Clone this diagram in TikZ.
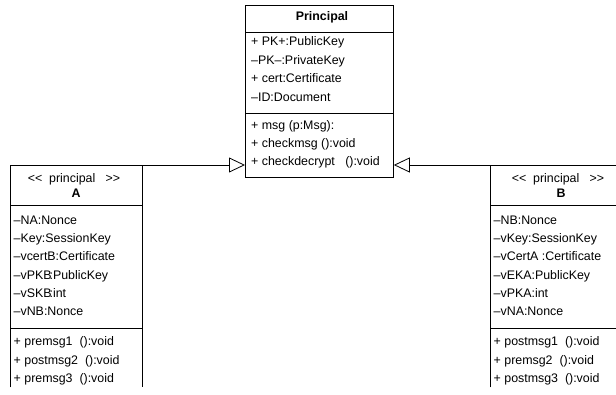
\documentclass[tikz,border=0pt]{standalone}
\usepackage{fontspec}
\setmainfont{Liberation Sans}
\usetikzlibrary{arrows.meta}
\begin{document}
\begin{tikzpicture}[x=1pt,y=-1pt,
  box/.style={draw=black, line width=0.8pt, inner sep=0pt, anchor=north west},
  openbox/.style={inner sep=0pt, anchor=north west},
  sep/.style={draw=black, line width=0.8pt},
  txt/.style={anchor=west, inner sep=0pt, font=\fontsize{12.4}{14}\selectfont, text height=8.5pt, text depth=2.5pt},
  ttl/.style={anchor=center, inner sep=0pt, font=\fontsize{12.4}{14}\selectfont\bfseries, text height=8.5pt, text depth=2.5pt},
  ster/.style={anchor=center, inner sep=0pt, font=\fontsize{12.4}{14}\selectfont, text height=8.5pt, text depth=2.5pt},
  gen/.style={-{Triangle[open,length=16pt,width=15pt,fill=white]}, line width=0.8pt}]
\useasboundingbox (0,0) rectangle (616,395);
\fill[white] (0,0) rectangle (616,395);
\clip (0,0) rectangle (616,395);
% Principal
\node[box, minimum width=148pt, minimum height=172pt] (P) at (245,5) {};
\node[ttl] (Pt) at (322,18) {Principal};
\draw[sep] (245,32) -- (393,32);
\node[txt] (P1) at (251,43) {+ PK+:PublicKey};
\node[txt] (P2) at (251,62) {–PK–:PrivateKey};
\node[txt] (P3) at (251,80) {+ cert:Certificate};
\node[txt] (P4) at (251,99) {–ID:Document};
\draw[sep] (245,113) -- (393,113);
\node[txt] (P5) at (251,127) {+ msg (p:Msg):};
\node[txt] (P6) at (251,145) {+ checkmsg ():void};
\node[txt] (P7) at (251,163) {+ checkdecrypt \ \ ():void};
% A (open at the bottom, cut off)
\node[openbox, minimum width=132pt, minimum height=222pt] (A) at (10,165) {};
\draw[sep] (A.south west) -- (A.north west) -- (A.north east) -- (A.south east);
\node[ster] (As) at (74,180) {{<}{<}\ \ principal \ \ {>}{>}};
\node[ttl] (At) at (76,195) {A};
\draw[sep] (10,205) -- (142,205);
\node[txt] (A1) at (13.5,222) {–NA:Nonce};
\node[txt] (A2) at (13.5,240) {–Key:SessionKey};
\node[txt] (A3) at (13.5,258) {–vcertB:Certificate};
\node[txt] (A4) at (13.5,277) {–vPKB\kern-2pt:PublicKey};
\node[txt] (A5) at (13.5,295) {–vSKB\kern-2pt:int};
\node[txt] (A6) at (13.5,313) {–vNB:Nonce};
\draw[sep] (10,328) -- (142,328);
\node[txt] (A7) at (13.5,343) {+ premsg1 \ ():void};
\node[txt] (A8) at (13.5,361) {+ postmsg2 \ ():void};
\node[txt] (A9) at (13.5,379) {+ premsg3 \ ():void};
% B (open at the bottom, cut off)
\node[openbox, minimum width=142pt, minimum height=222pt] (B) at (490,165) {};
\draw[sep] (B.south west) -- (B.north west) -- (B.north east) -- (B.south east);
\node[ster] (Bs) at (558,180) {{<}{<}\ \ principal \ \ {>}{>}};
\node[ttl] (Bt) at (561,195) {B};
\draw[sep] (490,205) -- (632,205);
\node[txt] (B1) at (493.5,222) {–NB:Nonce};
\node[txt] (B2) at (493.5,240) {–vKey:SessionKey};
\node[txt] (B3) at (493.5,258) {–vCertA :Certificate};
\node[txt] (B4) at (493.5,277) {–vEKA:PublicKey};
\node[txt] (B5) at (493.5,295) {–vPKA:int};
\node[txt] (B6) at (493.5,313) {–vNA:Nonce};
\draw[sep] (490,328) -- (632,328);
\node[txt] (B7) at (493.5,343) {+ postmsg1 \ ():void};
\node[txt] (B8) at (493.5,361) {+ premsg2 \ ():void};
\node[txt] (B9) at (493.5,379) {+ postmsg3 \ ():void};
% generalisations
\draw[gen] (A.north east) -- (P.west |- A.north east);
\draw[gen] (B.north west) -- (P.east |- B.north west);
\end{tikzpicture}
\end{document}
